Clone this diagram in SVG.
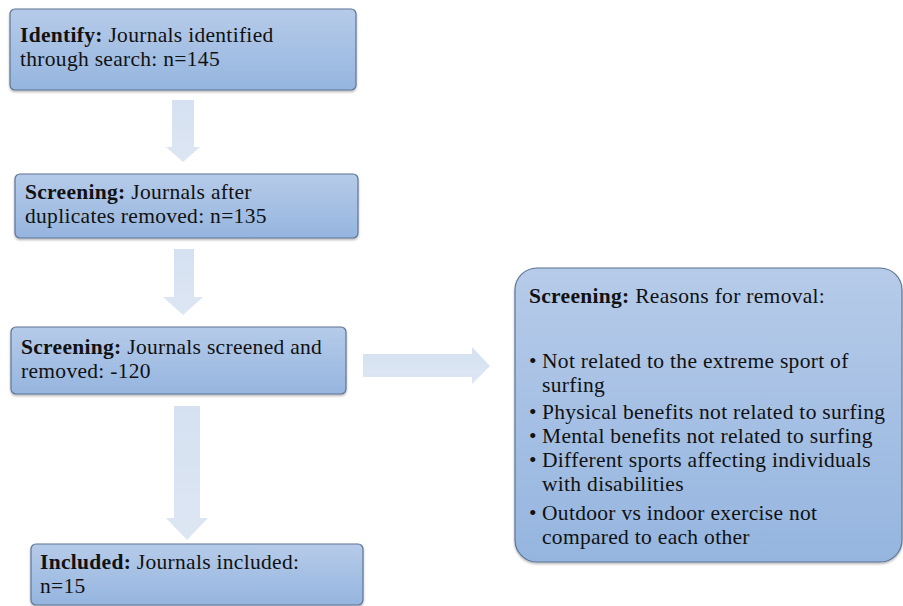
<svg xmlns="http://www.w3.org/2000/svg" width="903" height="606" viewBox="0 0 903 606" font-family="'Liberation Serif', 'DejaVu Serif', serif">
<defs>
<linearGradient id="boxg" x1="0" y1="0" x2="0" y2="1">
<stop offset="0" stop-color="#b6cbe9"/>
<stop offset="1" stop-color="#95b5df"/>
</linearGradient>
<linearGradient id="arrg" x1="0" y1="0" x2="0" y2="1">
<stop offset="0" stop-color="#d5e1f1"/>
<stop offset="1" stop-color="#dde6f3"/>
</linearGradient>
<filter id="sh" x="-5%" y="-5%" width="110%" height="115%">
<feDropShadow dx="0" dy="1.5" stdDeviation="1" flood-color="#000" flood-opacity="0.3"/>
</filter>
</defs>
<style>
.box{fill:url(#boxg);stroke:#5f7594;stroke-width:1.2;filter:url(#sh)}
.arr{fill:url(#arrg);stroke:none}
text{font-size:21.5px;letter-spacing:0.3px;fill:#111}
.b{font-weight:bold}
</style>
<rect width="903" height="606" fill="#fff"/>
<g id="connectors">
<polygon class="arr" points="172,100 194,100 194,147 200,147 183,162 166,147 172,147"/>
<polygon class="arr" points="174,249 194,249 194,297 203,297 183,315 163,297 174,297"/>
<polygon class="arr" points="174,406 200,406 200,518 208,518 187,540 166,518 174,518"/>
<polygon class="arr" points="363,354 472,354 472,347 490,366 472,384 472,377 363,377"/>
</g>
<g id="identify">
<rect class="box" x="10" y="9" width="346" height="81" rx="5"/>
<text x="20" y="42"><tspan class="b">Identify:</tspan> Journals identified<tspan x="20" y="66">through search: n=145</tspan></text>
</g>
<g id="screening1">
<rect class="box" x="15" y="174" width="343" height="64" rx="5"/>
<text x="25" y="199"><tspan class="b">Screening:</tspan> Journals after<tspan x="25" y="223">duplicates removed: n=135</tspan></text>
</g>
<g id="screening2">
<rect class="box" x="11" y="327" width="335" height="67" rx="5"/>
<text x="21" y="354"><tspan class="b">Screening:</tspan> Journals screened and<tspan x="21" y="378">removed: -120</tspan></text>
</g>
<g id="included">
<rect class="box" x="31" y="544" width="332" height="61" rx="5"/>
<text x="40" y="569"><tspan class="b">Included:</tspan> Journals included:<tspan x="40" y="593">n=15</tspan></text>
</g>
<g id="reasons">
<rect class="box" x="515" y="268" width="387" height="294" rx="22"/>
<text x="529" y="303"><tspan class="b">Screening:</tspan> Reasons for removal:</text>
<text x="529" y="368">•<tspan x="542" y="368">Not related to the extreme sport of</tspan><tspan x="542" y="392">surfing</tspan></text>
<text x="529" y="419">•<tspan x="542" y="419">Physical benefits not related to surfing</tspan></text>
<text x="529" y="443">•<tspan x="542" y="443">Mental benefits not related to surfing</tspan></text>
<text x="529" y="467">•<tspan x="542" y="467">Different sports affecting individuals</tspan><tspan x="542" y="491">with disabilities</tspan></text>
<text x="529" y="520">•<tspan x="542" y="520">Outdoor vs indoor exercise not</tspan><tspan x="542" y="544">compared to each other</tspan></text>
</g>
</svg>
